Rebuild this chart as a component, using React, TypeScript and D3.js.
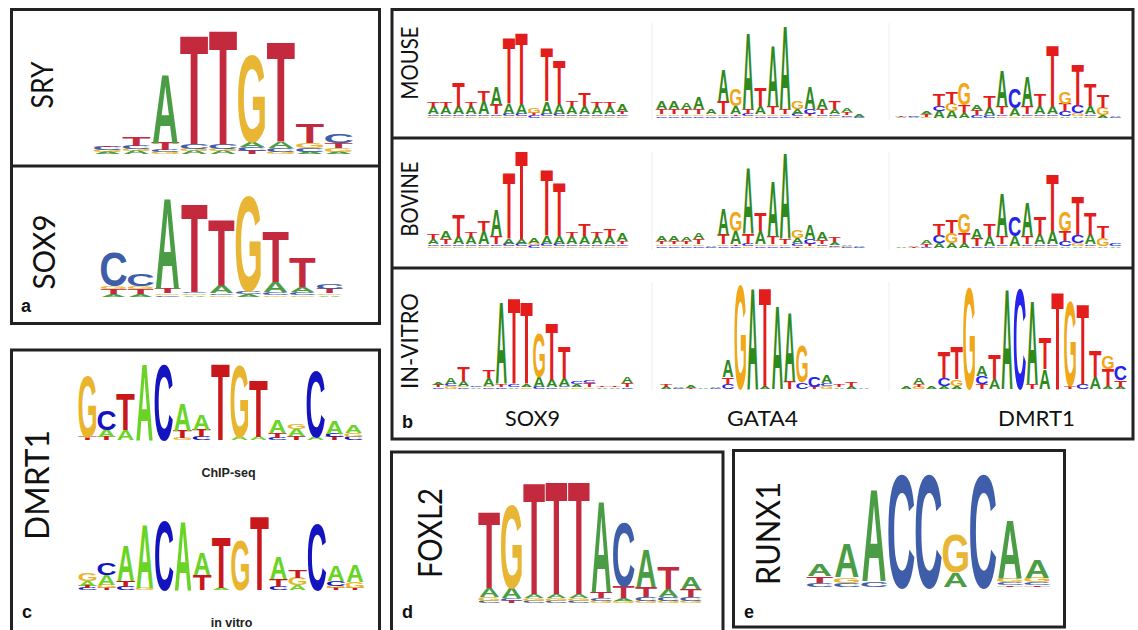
import React from "react";
import { scaleBand, scaleLinear } from "d3";

// each column is listed bottom -> top, "A.05" = letter A, 0.05 bits
const sryCols = [
  "A.03 G.03 C.05 T.02", "A.05 G.03 C.05 T.14", "G.03 C.03 T.11 A1.08",
  "A.05 G.03 C.08 T1.72", "A.05 G.03 C.08 T1.8", "T.05 C.06 A.08 G1.37",
  "G.03 C.06 A.09 T1.57", "A.03 C.06 G.08 T.31", "A.03 G.06 T.08 C.14",
];
const sox9aCols = [
  "A.05 T.08 G.05 C.58", "A.05 T.08 G.05 C.2", "C.03 G.03 T.08 A1.55",
  "A.03 G.03 C.03 T1.5", "G.03 C.03 A.13 T1.13", "A.05 C.05 G1.62",
  "G.03 C.05 A.17 T.87", "G.03 C.05 A.08 T.5", "A.03 G.03 T.08 C.08",
];
const dmrtChipCols = [
  "T.08 G1.55", "T.08 A.18 C.5", "A.25 T.92", "A1.95", "C1.92",
  "G.05 T.18 A.7", "C.08 T.18 A.38", "T1.95", "A.08 G1.82", "A.08 T1.45",
  "C.05 T.12 A.32", "T.1 A.18 G.12", "A.08 C1.7", "T.08 C.08 A.32", "C.08 G.1 A.2",
];
const dmrtVitroCols = [
  "C.05 T.05 A.12 G.2", "T.05 G.08 A.25 C.3", "C.08 T.15 A.88", "G.05 A1.62", "C1.75",
  "A1.75", "T.38 A.55", "A.05 T1.3", "G1.25", "T1.88",
  "C.08 T.2 A.55", "A.12 G.18 T.18", "C1.7", "T.05 G.05 C.12 A.38", "T.05 G.15 A.42",
];
const mouseSox9 = [
  "G.04 C.04 A.16 T.11", "G.04 C.04 A.16 T.11", "G.04 C.04 A.16 T.56", "G.04 C.04 A.16 T.11",
  "G.04 C.04 A.29 T.22", "G.04 C.04 T.22 A.4", "G.04 C.06 A.22 T1.49", "G.04 C.06 A.22 T1.62",
  "C.06 T.06 G.1", "G.04 C.06 A.27 T1.22", "G.04 C.06 A.22 T1.0", "G.04 C.04 A.18 T.11",
  "G.04 C.04 A.18 T.29", "G.04 C.04 A.16 T.11", "G.04 C.04 A.16 T.11", "G.04 C.04 T.06 A.16",
];
const bovineSox9 = [
  "G.04 C.04 A.11 T.11", "G.04 C.04 T.11 A.16", "G.04 C.04 A.16 T.51", "G.04 C.04 A.16 T.11",
  "G.04 C.04 A.29 T.22", "G.04 C.04 T.18 A.6", "G.04 C.06 A.11 T1.51", "G.04 C.06 A.11 T2.0",
  "C.06 G.06 A.11", "G.04 C.06 A.16 T1.49", "G.04 C.06 A.16 T1.22", "G.04 C.04 A.16 T.11",
  "G.04 C.04 A.18 T.27", "G.04 C.04 A.16 T.11", "G.04 C.04 A.16 T.16", "G.04 C.04 T.07 A.16",
];
const vitroSox9 = [
  "C.03 T.04 A.04", "G.05 C.05 A.13", "C.03 G.03 A.1 T.27", "A.03 C.02",
  "C.03 G.03 A.15 T.15", "C.03 T.06 A1.6", "A.03 C.06 T1.69", "G.03 A.06 T1.62",
  "C.04 A.19 G.87", "C.03 A.15 T1.12", "G.03 C.03 A.15 T.62", "G.03 A.06 C.06",
  "G.03 T.08 C.06", "A.03 T.03", "A.03 T.02", "C.03 T.08 A.13",
];
const mouseGata4 = [
  "C.04 G.04 T.11 A.18", "C.04 G.04 T.11 A.18", "C.04 G.04 T.11 A.13", "C.04 G.04 T.11 A.27",
  "C.04 G.04 A.11", "C.04 G.04 T.29 A.71", "C.04 T.04 A.18 G.38", "G.04 C.06 T.11 A1.73",
  "C.04 G.04 A.18 T.4", "C.04 G.04 T.18 A1.38", "C.04 G.04 T.11 A1.9", "T.04 C.06 A.11 G.16",
  "G.04 T.06 C.11 A.51", "G.04 C.04 T.11 A.22", "G.04 C.04 A.11 T.16", "G.03 C.03 T.07 A.09",
  "C.03 A.07",
];
const bovineGata4 = [
  "C.04 G.04 T.07 A.11", "C.04 G.04 T.07 A.11", "C.04 G.04 T.07 A.09", "C.04 G.04 T.11 A.13",
  "C.03 A.04", "C.04 G.04 T.22 A.6", "C.04 T.04 A.29 G.44", "G.04 C.06 T.22 A1.51",
  "C.04 G.04 A.29 T.4", "C.04 G.04 T.16 A1.27", "C.04 G.04 T.11 A1.96", "T.04 C.07 A.11 G.16",
  "G.04 T.06 C.11 A.33", "G.04 C.04 T.09 A.16", "G.03 C.03 A.07 T.11", "C.03 G.02 A.04",
  "C.02 A.04",
];
const vitroGata4 = [
  "A.04 T.04", "C.02 A.03", "T.02 A.04", "A.02", "C.02 A.03",
  "C.1 T.13 A.33", "G2.05", "A1.98", "A.05 T1.95", "A1.63",
  "T.15 A1.35", "C.13 G.71", "T.04 C.2", "G.05 C.06 A.15", "A.03 T.04",
  "A.04 T.1", "A.03",
];
const mouseDmrt1 = [
  "A.03 T.02", "A.03 C.02", "G.03 T.07 A.07", "A.16 C.11 T.27", "A.16 G.16 T.27",
  "A.11 T.18 G.49", "C.07 T.11 A.11", "C.07 A.16 T.27", "G.04 C.04 T.16 A.82",
  "G.04 A.18 C.44", "G.04 C.04 T.18 A.67", "G.04 C.04 A.18 T.27", "G.04 C.04 A.18 T1.38",
  "A.04 C.11 T.16 G.27", "A.04 G.07 C.16 T.93", "G.04 C.04 A.18 T.49", "A.07 G.16 T.29",
  "C.03 A.04",
];
const bovineDmrt1 = [
  "A.03", "T.03 A.03", "C.03 T.07 A.09", "A.11 C.16 T.27", "A.11 G.22 T.29",
  "A.11 T.22 G.44", "C.04 T.16 A.22", "C.04 A.22 T.27", "G.04 C.04 T.18 A.96",
  "G.04 A.22 C.44", "G.04 C.04 T.18 A.78", "G.04 C.04 A.22 T.4", "G.04 C.04 A.29 T1.29",
  "A.04 C.11 T.22 G.44", "A.04 G.07 C.18 T.89", "G.04 C.04 A.22 T.49", "A.04 G.18 T.27",
  "A.04 C.07",
];
const vitroDmrt1 = [
  "A.04", "G.04 T.06 A.13", "A.04", "A.06 C.15 T.52", "A.06 G.13 T.63",
  "G1.98", "T.1 C.15 A.19", "A.19 T.48", "A1.96", "C1.98",
  "T.1 A1.63", "A.38 T.62", "T1.92", "T.06 G1.67", "C.1 T1.58",
  "A.23 T.52", "A.06 T.33 G.25", "A.04 T.13 C.29",
];
const foxl2Cols = [
  "C.04 G.06 A.14 T1.25", "T.04 C.04 A.16 G1.36", "C.04 G.04 A.06 T1.82",
  "C.04 G.04 A.06 T1.84", "C.04 G.04 A.06 T1.86", "G.04 C.04 T.1 A1.49",
  "G.04 A.04 T.19 C1.04", "G.04 C.06 T.16 A.62", "G.04 C.06 A.13 T.35",
  "G.04 C.06 T.13 A.18",
];
const runx1Cols = [
  "C.07 T.12 A.2", "C.07 G.1 A.59", "C.1 A1.65", "C2.0", "C2.0",
  "A.26 G.66", "C2.0", "T.03 C.05 G.06 A1.03", "T.03 C.05 G.08 A.32",
];

const rowLabels = ["MOUSE", "BOVINE", "IN-VITRO"];
const factorLabels = ["SOX9", "GATA4", "DMRT1"];

const palA = { A: "#4b9d45", C: "#3f5ea9", G: "#e8b634", T: "#c42a3e" };
const palB = { A: "#2f8a1d", C: "#2424ec", G: "#f0a718", T: "#e31c1c" };
const palC = { A: "#69d425", C: "#1313bf", G: "#e9b52e", T: "#c9181b" };

// glyph ink width / cap height of Liberation Sans Bold (fraction of em)
const INK: Record<string, number> = { A: 0.722, C: 0.63, G: 0.674, T: 0.567 };
const CAP = 0.716;

const parse = (cols: string[]) =>
  cols.map((c) => c.split(" ").map((t) => [t[0], +t.slice(1)] as [string, number]));

const Logo = ({ data, x0, colW, base, ppb, pal }: any) => {
  const cols = parse(data);
  const x = scaleBand<number>()
    .domain(cols.map((_, i) => i))
    .range([x0, x0 + cols.length * colW])
    .paddingInner(0.08)
    .paddingOuter(0.04);
  const y = scaleLinear().domain([0, 2]).range([base, base - 2 * ppb]);
  const w = x.bandwidth();
  return (
    <g>
      {cols.map((col, i) => {
        let acc = 0;
        return col.map(([ch, b], j) => {
          const y0 = y(acc);
          const y1 = y(acc + b);
          acc += b;
          const h = y0 - y1;
          if (h < 0.4) return null;
          const sx = w / (INK[ch] * 100);
          const sy = h / (CAP * 100);
          return (
            <text
              key={i + "-" + j}
              transform={`translate(${x(i)! + w / 2},${y0}) scale(${sx},${sy})`}
              fontSize={100}
              fontFamily="'Liberation Sans', Arial, sans-serif"
              fontWeight="bold"
              textAnchor="middle"
              fill={pal[ch]}
            >
              {ch}
            </text>
          );
        });
      })}
    </g>
  );
};

const VLabel = ({ text, cx, cy, fs, len }: any) => (
  <text
    transform={`translate(${cx},${cy}) rotate(-90)`}
    y={fs * 0.36}
    fontSize={fs}
    fontFamily="Lato, 'Open Sans', sans-serif"
    textAnchor="middle"
    textLength={len}
    lengthAdjust="spacingAndGlyphs"
    fill="#111"
  >
    {text}
  </text>
);

const PanelLetter = ({ t, x, y }: any) => (
  <text x={x} y={y} fontSize={18} fontWeight="bold" fontFamily="'Liberation Sans', Arial, sans-serif" fill="#111">
    {t}
  </text>
);

const rowBase = [118, 248, 389];
const rowPpb = [45, 45, 52];
const rowData = [
  [mouseSox9, mouseGata4, mouseDmrt1],
  [bovineSox9, bovineGata4, bovineDmrt1],
  [vitroSox9, vitroGata4, vitroDmrt1],
];
const rowX0 = [
  [427, 655.5, 895],
  [427, 655.5, 895],
  [432, 660, 900],
];
const colWs = [12.6, 12.35, 12.6];
const rowTops = [9, 138, 268];

export default function App() {
  const border = { fill: "none", stroke: "#222", strokeWidth: 3 };
  return (
    <svg
      width={1138}
      height={630}
      style={{ position: "absolute", left: 0, top: 0, background: "#fff" }}
    >
      <rect x={0} y={0} width={1138} height={630} fill="#fff" />

      {/* panel a */}
      <rect x={11.5} y={9.5} width={368} height={314} {...border} />
      <line x1={11.5} x2={379.5} y1={166} y2={166} stroke="#222" strokeWidth={3} />
      <VLabel text="SRY" cx={42.5} cy={85} fs={30} len={47} />
      <VLabel text="SOX9" cx={44} cy={252} fs={30} len={75} />
      <Logo data={sryCols} x0={93} colW={28.9} base={154} ppb={65} pal={palA} />
      <Logo data={sox9aCols} x0={100} colW={27} base={297} ppb={60} pal={palA} />
      <PanelLetter t="a" x={21} y={312} />

      {/* panel c */}
      <rect x={11.5} y={350} width={368} height={290} {...border} />
      <VLabel text="DMRT1" cx={37} cy={485} fs={32} len={110} />
      <Logo data={dmrtChipCols} x0={78} colW={19} base={440} ppb={40} pal={palC} />
      <Logo data={dmrtVitroCols} x0={78} colW={19.1} base={590} ppb={40} pal={palC} />
      <text x={228.5} y={477} fontSize={12.5} fontWeight="bold" fontFamily="'Liberation Sans', Arial, sans-serif" textAnchor="middle" fill="#222">
        ChIP-seq
      </text>
      <text x={231.5} y={627} fontSize={12.5} fontWeight="bold" fontFamily="'Liberation Sans', Arial, sans-serif" textAnchor="middle" fill="#222">
        in vitro
      </text>
      <PanelLetter t="c" x={22} y={618} />

      {/* panel b */}
      <rect x={392} y={9.5} width={741} height={429.5} {...border} />
      <line x1={392} x2={1133} y1={138} y2={138} stroke="#222" strokeWidth={3} />
      <line x1={392} x2={1133} y1={268} y2={268} stroke="#222" strokeWidth={3} />
      {rowData.map((row, r) => (
        <g key={r}>
          {[652, 889].map((lx) => (
            <line key={lx} x1={lx} x2={lx} y1={rowTops[r] + 14} y2={rowBase[r] + 2} stroke="#eeeeee" strokeWidth={1} />
          ))}
          {row.map((d, k) => (
            <Logo key={k} data={d} x0={rowX0[r][k]} colW={colWs[k]} base={rowBase[r]} ppb={rowPpb[r]} pal={palB} />
          ))}
        </g>
      ))}
      <VLabel text={rowLabels[0]} cx={410} cy={63} fs={23} len={73} />
      <VLabel text={rowLabels[1]} cx={410} cy={199} fs={23} len={75} />
      <VLabel text={rowLabels[2]} cx={410} cy={341} fs={23} len={96} />
      {factorLabels.map((t, k) => (
        <text
          key={t}
          x={[532.5, 762.5, 1036.5][k]}
          y={426}
          fontSize={22}
          fontFamily="Lato, 'Open Sans', sans-serif"
          textAnchor="middle"
          textLength={[55, 71, 77][k]}
          lengthAdjust="spacingAndGlyphs"
          fill="#111"
        >
          {t}
        </text>
      ))}
      <PanelLetter t="b" x={402} y={428} />

      {/* panel d */}
      <rect x={391.5} y={452} width={331.5} height={190} {...border} />
      <VLabel text="FOXL2" cx={430} cy={533} fs={32} len={90} />
      <Logo data={foxl2Cols} x0={478} colW={22.4} base={603} ppb={62.5} pal={palA} />
      <PanelLetter t="d" x={402} y={618} />

      {/* panel e */}
      <rect x={733.5} y={450.5} width={331} height={176.5} {...border} />
      <VLabel text="RUNX1" cx={768} cy={533.5} fs={32} len={103} />
      <Logo data={runx1Cols} x0={806} colW={27.2} base={587} ppb={57.5} pal={palA} />
      <PanelLetter t="e" x={744} y={618} />
    </svg>
  );
}
